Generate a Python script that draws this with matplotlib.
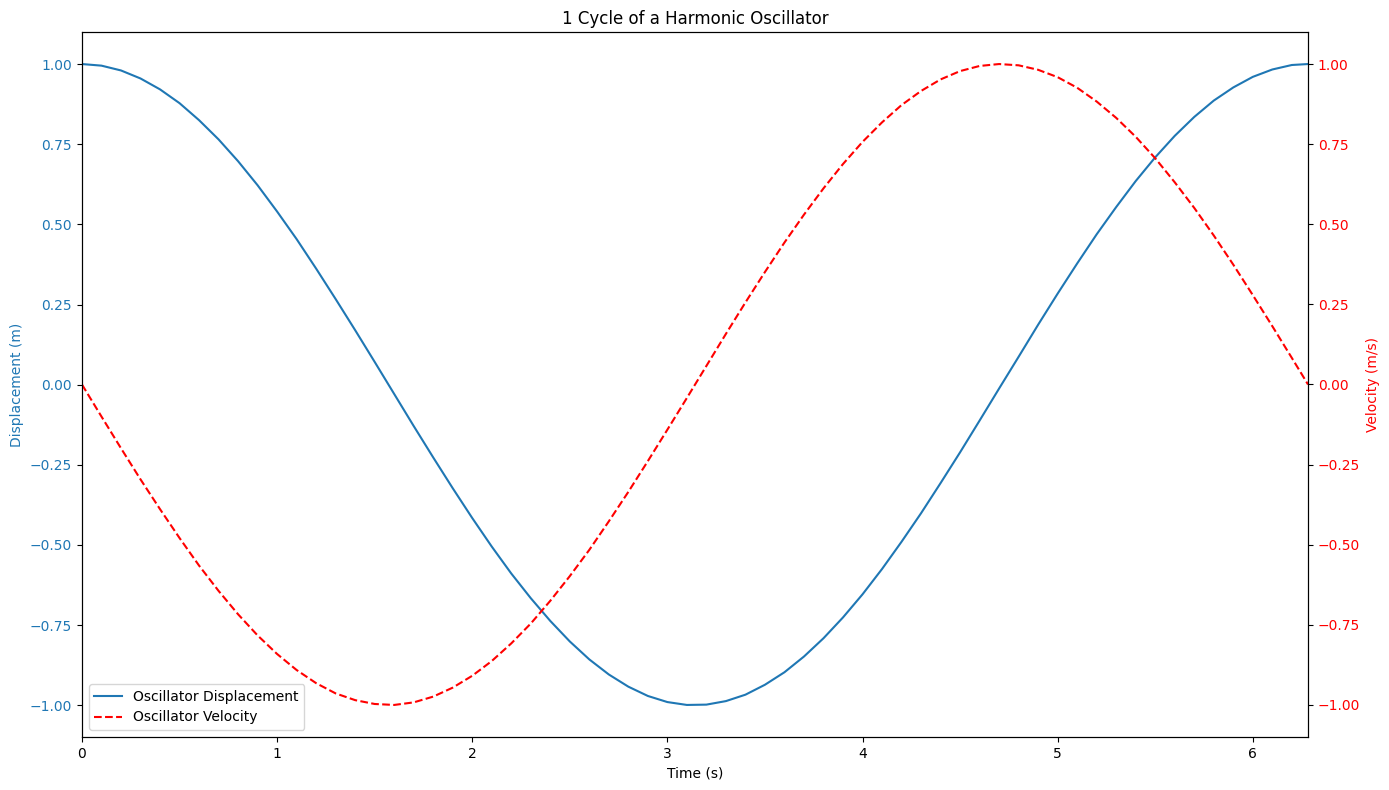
import matplotlib.pyplot as plt

# 時間 (s)
time_s = [0.0, 0.1, 0.2, 0.3, 0.4, 0.5, 0.6, 0.7, 0.8, 0.9,
          1.0, 1.1, 1.2, 1.3, 1.4, 1.5, 1.6, 1.7, 1.8, 1.9,
          2.0, 2.1, 2.2, 2.3, 2.4, 2.5, 2.6, 2.7, 2.8, 2.9,
          3.0, 3.1, 3.2, 3.3, 3.4, 3.5, 3.6, 3.7, 3.8, 3.9,
          4.0, 4.1, 4.2, 4.3, 4.4, 4.5, 4.6, 4.7, 4.8, 4.9,
          5.0, 5.1, 5.2, 5.3, 5.4, 5.5, 5.6, 5.7, 5.8, 5.9,
          6.0, 6.1, 6.2, 6.283]

# 変位 (m)
displacement = [1.000, 0.995, 0.980, 0.955, 0.921, 0.878, 0.825, 0.765, 0.697, 0.622,
                0.540, 0.454, 0.362, 0.267, 0.170, 0.071, -0.029, -0.129, -0.227, -0.323,
                -0.416, -0.505, -0.589, -0.666, -0.737, -0.801, -0.857, -0.904, -0.942, -0.971,
                -0.990, -0.999, -0.998, -0.987, -0.967, -0.936, -0.897, -0.848, -0.791, -0.726,
                -0.654, -0.575, -0.490, -0.401, -0.307, -0.211, -0.112, -0.012, 0.087, 0.187,
                0.284, 0.378, 0.469, 0.554, 0.635, 0.709, 0.776, 0.835, 0.886, 0.927,
                0.960, 0.983, 0.997, 1.000]

# 速度 (m/s)
velocity = [0.000, -0.100, -0.199, -0.296, -0.389, -0.479, -0.565, -0.644, -0.717, -0.783,
            -0.841, -0.891, -0.932, -0.964, -0.985, -0.997, -1.000, -0.992, -0.974, -0.946,
            -0.909, -0.863, -0.808, -0.746, -0.675, -0.598, -0.516, -0.427, -0.335, -0.239,
            -0.141, -0.042, 0.058, 0.158, 0.256, 0.351, 0.443, 0.530, 0.612, 0.688,
            0.757, 0.818, 0.872, 0.916, 0.952, 0.978, 0.994, 1.000, 0.996, 0.982,
            0.959, 0.926, 0.883, 0.832, 0.773, 0.706, 0.631, 0.551, 0.465, 0.374,
            0.279, 0.182, 0.083, 0.000]

fig, ax1 = plt.subplots(figsize=(13.89, 7.9), dpi=100)

line1, = ax1.plot(time_s, displacement, color='tab:blue', label='Oscillator Displacement')
ax1.set_xlabel('Time (s)')
ax1.set_ylabel('Displacement (m)', color='tab:blue')
ax1.tick_params(axis='y', labelcolor='tab:blue')
ax1.set_xlim(0, time_s[-1])

ax2 = ax1.twinx()
line2, = ax2.plot(time_s, velocity, color='red', linestyle='--', label='Oscillator Velocity')
ax2.set_ylabel('Velocity (m/s)', color='red')
ax2.tick_params(axis='y', labelcolor='red')

ax1.legend(handles=[line1, line2], loc='lower left')
plt.title('1 Cycle of a Harmonic Oscillator')
fig.subplots_adjust(left=0.059, right=0.9417, top=0.9595, bottom=0.0671)
plt.savefig('out.png')
